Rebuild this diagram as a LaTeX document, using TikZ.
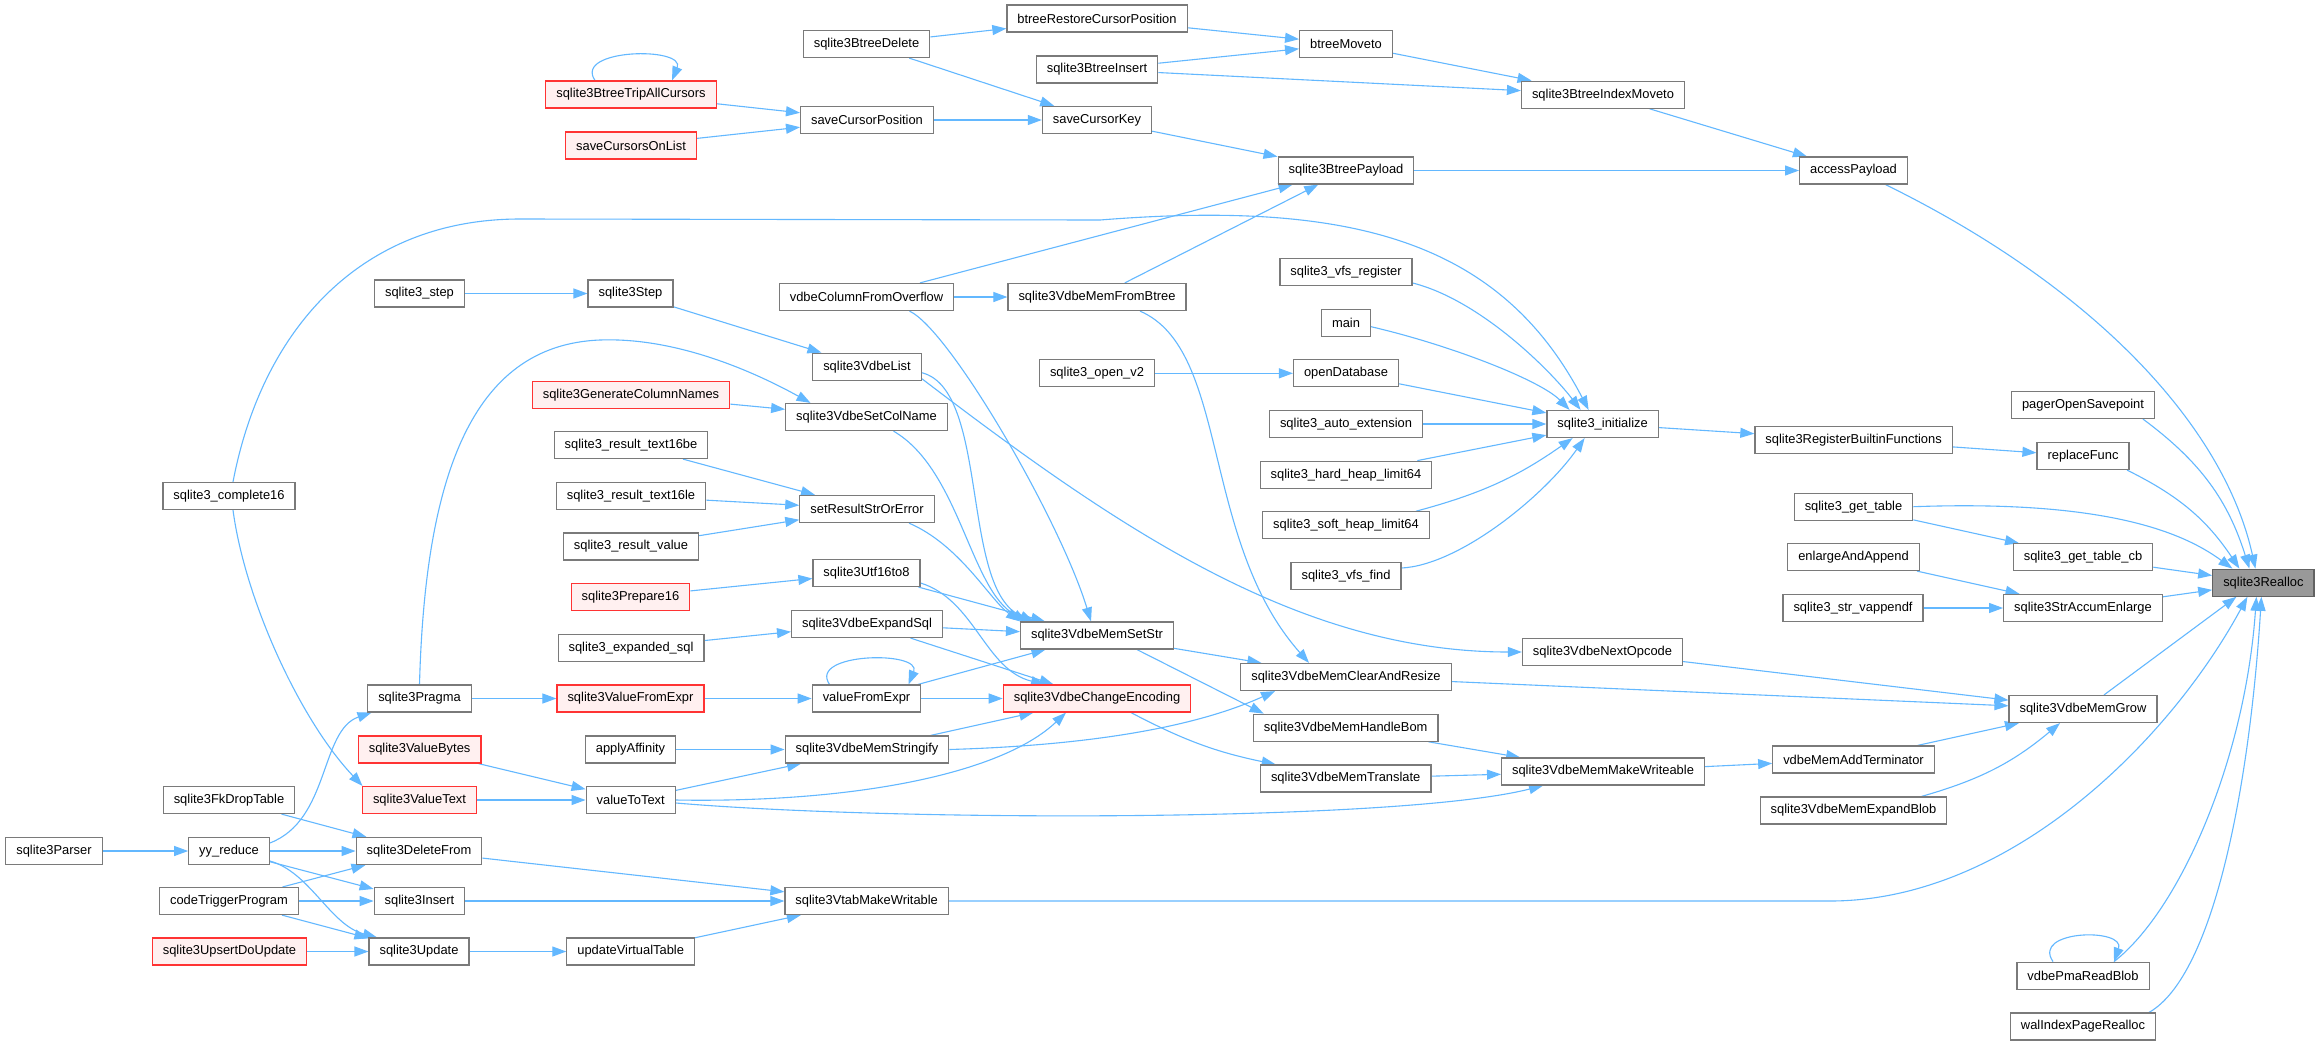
\documentclass[tikz,border=0pt]{standalone}
\usepackage{fontspec}
\setmainfont{Liberation Sans}
\usetikzlibrary{arrows.meta}
\pgfdeclarelayer{background}
\pgfdeclarelayer{canvas}
\pgfsetlayers{canvas,background,main}
\definecolor{edgec}{HTML}{63B8FF}
\definecolor{nodeb}{HTML}{7A7A7A}
\definecolor{redb}{HTML}{FF3333}
\definecolor{redf}{HTML}{FFF0F0}
\definecolor{rootf}{HTML}{999999}
\begin{document}
\begin{tikzpicture}[x=1pt,y=-1pt,
  font=\fontsize{12.9}{15}\selectfont,
  fnode/.style={draw=nodeb,fill=white,line width=1.2pt,minimum height=27pt,inner xsep=10.5pt,inner ysep=0pt},
  rnode/.style={fnode,draw=redb,fill=redf},
  rootnode/.style={fnode,fill=rootf,draw=nodeb!80!black},
  cedge/.style={draw=edgec,line width=1.1pt,-{Triangle[length=14pt,width=10pt]}}]
\begin{pgfonlayer}{canvas}
\fill[white] (0,0) rectangle (2320,1045);
\end{pgfonlayer}
\useasboundingbox (0,0) rectangle (2320,1045);
% nodes
\node[fnode] (restore) at (1097,18.5) {btreeRestoreCursorPosition};
\node[fnode] (bdelete) at (866.5,44) {sqlite3BtreeDelete};
\node[fnode] (moveto) at (1346,44) {btreeMoveto};
\node[fnode] (binsert) at (1097,69.5) {sqlite3BtreeInsert};
\node[rnode] (tripall) at (631,94.5) {sqlite3BtreeTripAllCursors};
\node[fnode] (indexmoveto) at (1603,94.7) {sqlite3BtreeIndexMoveto};
\node[fnode] (savepos) at (867,120) {saveCursorPosition};
\node[fnode] (savekey) at (1097,120) {saveCursorKey};
\node[rnode] (savelist) at (631,145.5) {saveCursorsOnList};
\node[fnode] (payload) at (1346,170.5) {sqlite3BtreePayload};
\node[fnode] (access) at (1853.5,170.5) {accessPayload};
\node[fnode] (vfsreg) at (1346,272) {sqlite3\_vfs\_register};
\node[fnode] (sstep) at (419.5,293.5) {sqlite3\_step};
\node[fnode] (Step) at (630.5,293.5) {sqlite3Step};
\node[fnode] (colover) at (866.5,297) {vdbeColumnFromOverflow};
\node[fnode] (frombtree) at (1097,297) {sqlite3VdbeMemFromBtree};
\node[fnode] (main) at (1346,322.7) {main};
\node[fnode] (vdbelist) at (867,366.7) {sqlite3VdbeList};
\node[fnode] (openv2) at (1097,373.3) {sqlite3\_open\_v2};
\node[fnode] (opendb) at (1346,373.3) {openDatabase};
\node[rnode] (gencol) at (631,394.7) {sqlite3GenerateColumnNames};
\node[fnode] (pageropen) at (2083,405) {pagerOpenSavepoint};
\node[fnode] (setcol) at (866.5,417) {sqlite3VdbeSetColName};
\node[fnode] (autoext) at (1346,424) {sqlite3\_auto\_extension};
\node[fnode] (init) at (1602.6,424) {sqlite3\_initialize};
\node[fnode] (regbuiltin) at (1853.6,440) {sqlite3RegisterBuiltinFunctions};
\node[fnode] (text16be) at (631,445) {sqlite3\_result\_text16be};
\node[fnode] (replace) at (2083,456) {replaceFunc};
\node[fnode] (hardheap) at (1346,474.7) {sqlite3\_hard\_heap\_limit64};
\node[fnode] (complete16) at (229,496) {sqlite3\_complete16};
\node[fnode] (text16le) at (631,496) {sqlite3\_result\_text16le};
\node[fnode] (gettable) at (1853.5,506.7) {sqlite3\_get\_table};
\node[fnode] (setresult) at (867,509) {setResultStrOrError};
\node[fnode] (softheap) at (1346,525.3) {sqlite3\_soft\_heap\_limit64};
\node[fnode] (resvalue) at (631,546.5) {sqlite3\_result\_value};
\node[fnode] (enlarge) at (1853.5,557) {enlargeAndAppend};
\node[fnode] (gettablecb) at (2083,557.3) {sqlite3\_get\_table\_cb};
\node[fnode] (utf16to8) at (866.5,573) {sqlite3Utf16to8};
\node[fnode] (vfsfind) at (1346,576) {sqlite3\_vfs\_find};
\node[rootnode] (realloc) at (2263.4,582.7) {sqlite3Realloc};
\node[rnode] (prep16) at (630.5,597) {sqlite3Prepare16};
\node[fnode] (vappendf) at (1853,608) {sqlite3\_str\_vappendf};
\node[fnode] (strenlarge) at (2083,608) {sqlite3StrAccumEnlarge};
\node[fnode] (expandsql) at (867,624) {sqlite3VdbeExpandSql};
\node[fnode] (memsetstr) at (1097,635.5) {sqlite3VdbeMemSetStr};
\node[fnode] (expanded) at (631,648) {sqlite3\_expanded\_sql};
\node[fnode] (nextop) at (1602.5,652) {sqlite3VdbeNextOpcode};
\node[fnode] (clearresize) at (1346,677) {sqlite3VdbeMemClearAndResize};
\node[fnode] (pragma) at (419.5,698.5) {sqlite3Pragma};
\node[rnode] (valfromexprS) at (630.5,698.5) {sqlite3ValueFromExpr};
\node[fnode] (valfromexpr) at (866.5,698.5) {valueFromExpr};
\node[rnode] (changeenc) at (1097,698.5) {sqlite3VdbeChangeEncoding};
\node[fnode] (memgrow) at (2083,709) {sqlite3VdbeMemGrow};
\node[fnode] (handlebom) at (1345.7,727.7) {sqlite3VdbeMemHandleBom};
\node[rnode] (valuebytes) at (419.6,749.5) {sqlite3ValueBytes};
\node[fnode] (affinity) at (630.5,749.5) {applyAffinity};
\node[fnode] (stringify) at (867,749.5) {sqlite3VdbeMemStringify};
\node[fnode] (addterm) at (1853.5,759.5) {vdbeMemAddTerminator};
\node[fnode] (makewrite) at (1603,771.5) {sqlite3VdbeMemMakeWriteable};
\node[fnode] (translate) at (1345.7,778.5) {sqlite3VdbeMemTranslate};
\node[fnode] (fkdrop) at (229,800) {sqlite3FkDropTable};
\node[rnode] (valuetext) at (419.5,800) {sqlite3ValueText};
\node[fnode] (valuetotext) at (630.7,800) {valueToText};
\node[fnode] (expandblob) at (1853.5,810.5) {sqlite3VdbeMemExpandBlob};
\node[fnode] (parser) at (54,851) {sqlite3Parser};
\node[fnode] (yyreduce) at (229,851) {yy\_reduce};
\node[fnode] (deletefrom) at (419,851) {sqlite3DeleteFrom};
\node[fnode] (codetrigger) at (229,901) {codeTriggerProgram};
\node[fnode] (insert) at (419.5,901) {sqlite3Insert};
\node[fnode] (vtabwrite) at (866.7,901) {sqlite3VtabMakeWritable};
\node[rnode] (upsert) at (229.5,951.5) {sqlite3UpsertDoUpdate};
\node[fnode] (update) at (419,951.5) {sqlite3Update};
\node[fnode] (updatevt) at (630.7,951.5) {updateVirtualTable};
\node[fnode] (pmaread) at (2083,975.7) {vdbePmaReadBlob};
\node[fnode] (walindex) at (2083,1026.5) {walIndexPageRealloc};
% edges
\begin{pgfonlayer}{background}
\draw[cedge] (tripall) -- (savepos);
\draw[cedge] ([xshift=-36pt]tripall.north) .. controls +(-22,-32) and +(14,-34) .. ([xshift=41pt]tripall.north);
\draw[cedge] (savelist) -- (savepos);
\draw[cedge] (savepos) -- (savekey);
\draw[cedge] (bdelete) -- (restore);
\draw[cedge] (bdelete) -- (savekey);
\draw[cedge] (restore) -- (moveto);
\draw[cedge] (binsert) -- (moveto);
\draw[cedge] (binsert) -- (indexmoveto);
\draw[cedge] (moveto) -- (indexmoveto);
\draw[cedge] (savekey) -- (payload);
\draw[cedge] (indexmoveto) -- (access);
\draw[cedge] (payload) -- (access);
\draw[cedge] ([xshift=32pt]access.south) .. controls (2100,290) and (2225,430) .. ([xshift=-8pt]realloc.north);
\draw[cedge] (colover) -- (payload);
\draw[cedge] (frombtree) -- (payload);
\draw[cedge] (colover) -- (frombtree);
\draw[cedge] ([xshift=4pt]complete16.north) .. controls (262,330) and (360,219) .. (520,219) -- (1100,220) .. controls (1350,200) and (1500,240) .. ([xshift=-14pt]init.north);
\draw[cedge] ([xshift=4pt]complete16.south) .. controls (245,600) and (300,720) .. ([xshift=-57pt]valuetext.north);
\draw[cedge] (sstep) -- (Step);
\draw[cedge] (Step) -- (vdbelist);
\draw[cedge] ([yshift=-6pt]vdbelist.east) .. controls (990,390) and (960,590) .. ([xshift=-63pt]memsetstr.north);
\draw[cedge] ([yshift=-12pt]vdbelist.east) .. controls (1120,530) and (1300,652) .. (nextop.west);
\draw[cedge] (pragma.north) .. controls (425,480) and (470,345) .. (600,340) .. controls (680,337) and (760,375) .. ([xshift=-56pt]setcol.north);
\draw[cedge] (pragma) -- (valfromexprS);
\draw[cedge] (gencol) -- (setcol);
\draw[cedge] ([xshift=27pt]setcol.south) .. controls (960,470) and (970,590) .. ([xshift=-70pt]memsetstr.north);
\draw[cedge] (text16be) -- (setresult);
\draw[cedge] (text16le) -- (setresult);
\draw[cedge] (resvalue) -- (setresult);
\draw[cedge] ([xshift=42pt]setresult.south) .. controls (960,545) and (990,600) .. ([xshift=-77pt]memsetstr.north);
\draw[cedge] (prep16) -- (utf16to8);
\draw[cedge] (utf16to8) -- (memsetstr);
\draw[cedge] ([yshift=-10pt]utf16to8.east) .. controls (975,600) and (985,670) .. ([xshift=-52pt]changeenc.north);
\draw[cedge] (expanded) -- (expandsql);
\draw[cedge] (expandsql) -- (memsetstr);
\draw[cedge] (expandsql) -- (changeenc);
\draw[cedge] ([xshift=43pt]colover.south) .. controls (950,330) and (1060,520) .. ([xshift=-6pt]memsetstr.north);
\draw[cedge] (valfromexprS) -- (valfromexpr);
\draw[cedge] ([xshift=-37pt]valfromexpr.north) .. controls +(-22,-32) and +(14,-34) .. ([xshift=42pt]valfromexpr.north);
\draw[cedge] (valfromexpr) -- (changeenc);
\draw[cedge] (valfromexpr) -- (memsetstr);
\draw[cedge] (memsetstr) -- (clearresize);
\draw[cedge] ([xshift=40pt]memsetstr.south) -- ([xshift=-82pt]handlebom.north);
\draw[cedge] ([xshift=34pt]changeenc.south) to[bend right=8] ([xshift=-70pt]translate.north);
\draw[cedge] (stringify) -- (changeenc);
\draw[cedge] (stringify.east) .. controls (1100,745) and (1200,725) .. ([xshift=-71pt]clearresize.south);
\draw[cedge] (affinity) -- (stringify);
\draw[cedge] (valuebytes) -- (valuetotext);
\draw[cedge] (valuetext) -- (valuetotext);
\draw[cedge] (valuetotext) -- (stringify);
\draw[cedge] (valuetotext.east) .. controls (850,803) and (1000,775) .. ([xshift=-31pt]changeenc.south);
\draw[cedge] ([yshift=-3pt]valuetotext.east) .. controls (900,822) and (1400,822) .. ([xshift=-60pt]makewrite.south);
\draw[cedge] ([xshift=43pt]frombtree.south) .. controls (1230,350) and (1200,540) .. ([xshift=-37pt]clearresize.north);
\draw[cedge] (clearresize) -- (memgrow);
\draw[cedge] (nextop) -- (memgrow);
\draw[cedge] (handlebom) -- (makewrite);
\draw[cedge] (translate) -- (makewrite);
\draw[cedge] (makewrite) -- (addterm);
\draw[cedge] (addterm) -- (memgrow);
\draw[cedge] ([xshift=68pt]expandblob.north) to[bend right=12] ([xshift=-23pt]memgrow.south);
\draw[cedge] ([xshift=21pt]memgrow.north) -- ([xshift=-27pt]realloc.south);
\draw[cedge] (vtabwrite.east) -- (1830,901) .. controls (2010,901) and (2170,740) .. ([xshift=-16pt]realloc.south);
\draw[cedge] ([xshift=31pt]pmaread.north) .. controls (2180,910) and (2245,760) .. ([xshift=-7pt]realloc.south);
\draw[cedge] ([xshift=66pt]walindex.north) .. controls (2215,975) and (2250,780) .. ([xshift=-2pt]realloc.south);
\draw[cedge] ([xshift=-30pt]pmaread.north) .. controls +(-22,-32) and +(12,-34) .. ([xshift=31pt]pmaread.north);
\draw[cedge] (init) -- (regbuiltin);
\draw[cedge] (regbuiltin) -- (replace);
\draw[cedge] ([xshift=44pt]replace.south) to[bend left=15] ([xshift=-24pt]realloc.north);
\draw[cedge] ([xshift=60pt]pageropen.south) to[bend left=18] ([xshift=-14pt]realloc.north);
\draw[cedge] (gettable.east) .. controls (2100,500) and (2180,530) .. ([xshift=-31pt]realloc.north);
\draw[cedge] (gettable) -- (gettablecb);
\draw[cedge] (gettablecb) -- (realloc);
\draw[cedge] (enlarge) -- (strenlarge);
\draw[cedge] (vappendf) -- (strenlarge);
\draw[cedge] (strenlarge) -- (realloc);
\draw[cedge] ([yshift=-11pt]vfsreg.east) .. controls (1480,300) and (1550,370) .. ([xshift=-22pt]init.north);
\draw[cedge] ([yshift=-4pt]main.east) .. controls (1450,345) and (1540,380) .. ([xshift=-33pt]init.north);
\draw[cedge] (openv2) -- (opendb);
\draw[cedge] (opendb) -- (init);
\draw[cedge] (autoext) -- (init);
\draw[cedge] (hardheap) -- (init);
\draw[cedge] ([xshift=70pt]softheap.north) to[bend right=10] ([xshift=-30pt]init.south);
\draw[cedge] ([yshift=8pt]vfsfind.east) .. controls (1460,565) and (1545,495) .. ([xshift=-18pt]init.south);
\draw[cedge] (parser) -- (yyreduce);
\draw[cedge] ([yshift=8pt]yyreduce.east) .. controls (330,820) and (320,730) .. ([xshift=-48pt]pragma.south);
\draw[cedge] (yyreduce) -- (deletefrom);
\draw[cedge] (yyreduce) -- (insert);
\draw[cedge] ([yshift=-10pt]yyreduce.east) .. controls (310,872) and (330,925) .. ([xshift=-42pt]update.north);
\draw[cedge] (fkdrop) -- (deletefrom);
\draw[cedge] (codetrigger) -- (deletefrom);
\draw[cedge] (codetrigger) -- (insert);
\draw[cedge] (codetrigger) -- (update);
\draw[cedge] (upsert) -- (update);
\draw[cedge] (deletefrom) -- (vtabwrite);
\draw[cedge] (insert) -- (vtabwrite);
\draw[cedge] (update) -- (updatevt);
\draw[cedge] (updatevt) -- (vtabwrite);
\end{pgfonlayer}
\end{tikzpicture}
\end{document}
